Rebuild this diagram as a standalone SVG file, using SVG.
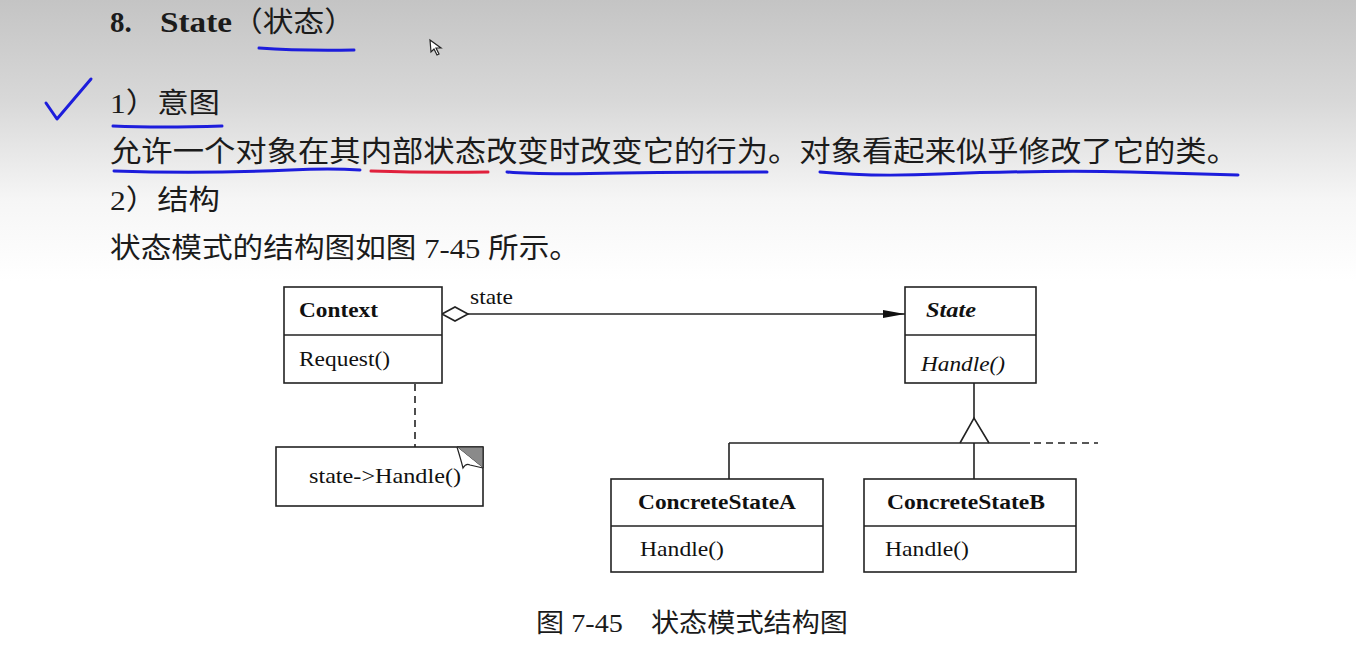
<svg xmlns="http://www.w3.org/2000/svg" width="1356" height="670" viewBox="0 0 1356 670">
<defs>
<linearGradient id="bg" x1="0" y1="0" x2="0" y2="1">
<stop offset="0" stop-color="#c4c4c4"/>
<stop offset="0.15" stop-color="#d8d8d8"/>
<stop offset="0.3" stop-color="#f6f6f6"/>
<stop offset="0.42" stop-color="#ffffff"/>
<stop offset="1" stop-color="#ffffff"/>
</linearGradient>
<marker id="filled" viewBox="0 0 22 10" refX="22" refY="5" markerWidth="22" markerHeight="10" markerUnits="userSpaceOnUse" orient="auto">
<path d="M0,1 L22,5 L0,9 Z" fill="#111"/>
</marker>
</defs>
<style>
.cn{font-family:"Liberation Serif","Noto Sans CJK SC",serif;fill:#1b1b1b}
.ui{font-family:"Liberation Serif",serif;fill:#111}
.box{fill:#fff;stroke:#222;stroke-width:1.6}
.ln{stroke:#222;stroke-width:1.6;fill:none}
.pen{fill:none;stroke:#1d1ddc;stroke-width:3;stroke-linecap:round;stroke-linejoin:round}
.red{fill:none;stroke:#e0203c;stroke-width:3;stroke-linecap:round}
</style>
<rect x="0" y="0" width="1356" height="670" fill="url(#bg)"/>

<g id="heading">
<text class="cn" x="110" y="32" font-size="29" font-weight="bold">8.</text>
<text class="cn" x="160" y="32" font-size="29" font-weight="bold" textLength="72" lengthAdjust="spacingAndGlyphs">State</text>
<text class="cn" x="232" y="32" font-size="28" textLength="123" lengthAdjust="spacingAndGlyphs">（状态）</text>
<text class="cn" x="110" y="113" font-size="28" textLength="110" lengthAdjust="spacingAndGlyphs">1）意图</text>
<text class="cn" x="110" y="162" font-size="29" textLength="1128" lengthAdjust="spacingAndGlyphs">允许一个对象在其内部状态改变时改变它的行为。对象看起来似乎修改了它的类。</text>
<text class="cn" x="110" y="210" font-size="28" textLength="110" lengthAdjust="spacingAndGlyphs">2）结构</text>
<text class="cn" x="110" y="258" font-size="28" textLength="470" lengthAdjust="spacingAndGlyphs">状态模式的结构图如图 7-45 所示。</text>
</g>

<g id="annotations">
<path class="pen" d="M259,48 Q300,51 354,50"/>
<path class="pen" d="M46,103 L57,119 L91,79"/>
<path class="pen" d="M113,126 Q160,128 222,126"/>
<path class="pen" d="M114,171 Q200,174 290,170 Q330,168 360,170"/>
<path class="red" d="M371,171 Q430,173 488,172"/>
<path class="pen" d="M507,172 Q540,175 620,173 Q700,172 767,172"/>
<path class="pen" d="M820,172 Q870,177 940,174 Q1050,170 1130,172 Q1200,174 1238,175"/>
<path d="M430,40 L431,52 L434,49 L437,55 L439,54 L436,48 L441,48 Z" fill="#fff" stroke="#222" stroke-width="1.2"/>
</g>

<g id="connectors">
<path class="ln" d="M442,314 L455,307 L468,314 L455,321 Z" fill="#fff"/>
<line class="ln" x1="468" y1="314" x2="905" y2="314" marker-end="url(#filled)"/>
<text class="ui" x="470" y="304" font-size="22" textLength="43" lengthAdjust="spacingAndGlyphs">state</text>
<circle cx="415" cy="356" r="4" fill="#fff" stroke="#222" stroke-width="1.5"/>
<line class="ln" x1="415" y1="360" x2="415" y2="447" stroke-dasharray="7,5"/>
<line class="ln" x1="974" y1="383" x2="974" y2="418"/>
<path class="ln" d="M960,443 L974,418 L989,443"/>
<line class="ln" x1="729" y1="443" x2="1030" y2="443"/>
<line class="ln" x1="1034" y1="443" x2="1098" y2="443" stroke-dasharray="7,5"/>
<line class="ln" x1="729" y1="443" x2="729" y2="479"/>
<line class="ln" x1="974" y1="443" x2="974" y2="479"/>
</g>

<g id="context">
<rect class="box" x="284" y="287" width="158" height="96"/>
<line class="ln" x1="284" y1="335" x2="442" y2="335"/>
<text class="ui" x="299" y="317" font-size="22" font-weight="bold" textLength="79" lengthAdjust="spacingAndGlyphs">Context</text>
<text class="ui" x="299" y="366" font-size="22" textLength="91" lengthAdjust="spacingAndGlyphs">Request()</text>
</g>

<g id="note">
<rect class="box" x="276" y="447" width="207" height="59"/>
<path d="M457,447 L483,447 L483,468 Z" fill="#8a8a8a" stroke="#222" stroke-width="1"/>
<path d="M457,447 Q461,460 463,468 Q466,463 470,465 L483,468" fill="#fff" stroke="#222" stroke-width="1.2"/>
<text class="ui" x="309" y="483" font-size="22" textLength="152" lengthAdjust="spacingAndGlyphs">state-&gt;Handle()</text>
</g>

<g id="state">
<rect class="box" x="905" y="287" width="131" height="96"/>
<line class="ln" x1="905" y1="335" x2="1036" y2="335"/>
<text class="ui" x="926" y="317" font-size="22" font-weight="bold" font-style="italic" textLength="50" lengthAdjust="spacingAndGlyphs">State</text>
<text class="ui" x="921" y="371" font-size="22" font-style="italic" textLength="84" lengthAdjust="spacingAndGlyphs">Handle()</text>
</g>

<g id="concreteA">
<rect class="box" x="611" y="479" width="212" height="93"/>
<line class="ln" x1="611" y1="526" x2="823" y2="526"/>
<text class="ui" x="638" y="509" font-size="22" font-weight="bold" textLength="158" lengthAdjust="spacingAndGlyphs">ConcreteStateA</text>
<text class="ui" x="640" y="556" font-size="22" textLength="84" lengthAdjust="spacingAndGlyphs">Handle()</text>
</g>

<g id="concreteB">
<rect class="box" x="864" y="479" width="212" height="93"/>
<line class="ln" x1="864" y1="526" x2="1076" y2="526"/>
<text class="ui" x="887" y="509" font-size="22" font-weight="bold" textLength="158" lengthAdjust="spacingAndGlyphs">ConcreteStateB</text>
<text class="ui" x="885" y="556" font-size="22" textLength="84" lengthAdjust="spacingAndGlyphs">Handle()</text>
</g>

<g id="caption">
<text class="cn" x="536" y="632" font-size="26" textLength="312" lengthAdjust="spacingAndGlyphs">图 7-45　状态模式结构图</text>
</g>
</svg>
